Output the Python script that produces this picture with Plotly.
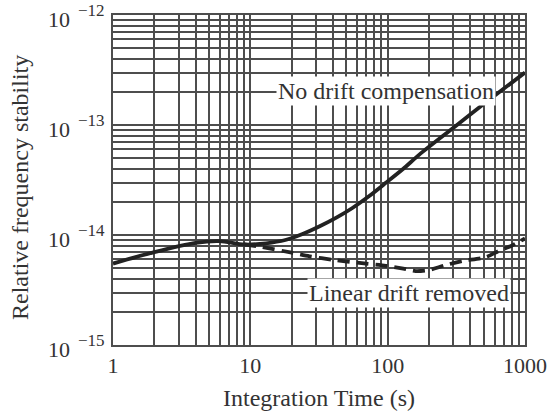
import plotly.graph_objects as go

# Data
solid_x = [1, 2, 4, 6, 9, 13, 18, 24, 32, 42, 55, 73, 97, 130, 170, 300, 500, 1000]
solid_y = [5.5e-15, 7.0e-15, 8.5e-15, 8.8e-15, 8.2e-15, 8.4e-15, 9.0e-15, 10.2e-15,
           12.0e-15, 14.3e-15, 17.5e-15, 22.5e-15, 29.8e-15, 40e-15, 53.8e-15,
           94e-15, 155e-15, 300e-15]
dash_x = [9, 12, 20, 27, 40, 60, 97, 130, 160, 200, 260, 350, 520, 650, 800, 1000]
dash_y = [8.2e-15, 7.8e-15, 6.9e-15, 6.4e-15, 5.95e-15, 5.6e-15, 5.25e-15, 4.95e-15,
          4.7e-15, 4.8e-15, 5.3e-15, 5.8e-15, 6.3e-15, 7.2e-15, 8.0e-15, 9.3e-15]

x_labels = ["1", "10", "100", "1000"]
x_decades = [1, 10, 100, 1000]
y_exponents = [-15, -14, -13, -12]
y_base = "10"
y_exp_labels = ["\u221215", "\u221214", "\u221213", "\u221212"]

x_grid = [m * 10 ** e for e in range(0, 3) for m in range(1, 10)] + [1000]
y_grid = [m * 10.0 ** e for e in range(-15, -12) for m in range(1, 10)] + [1e-12]

FONT = "Liberation Serif, Times New Roman, serif"
TXT = "#333333"
GRID = "#4d4d4d"
LINE = "#222222"

fig = go.Figure()
fig.add_trace(go.Scatter(x=dash_x, y=dash_y, mode="lines",
                         line=dict(color=LINE, width=3.8, dash="12px,7px", shape="spline", smoothing=0.7),
                         showlegend=False))
fig.add_trace(go.Scatter(x=solid_x, y=solid_y, mode="lines",
                         line=dict(color=LINE, width=3.8, shape="spline", smoothing=0.7),
                         showlegend=False))

xticktext = [x_labels[x_decades.index(v)] if v in x_decades else "" for v in x_grid]

fig.update_xaxes(type="log", range=[0, 3], tickvals=x_grid, ticktext=xticktext, automargin=False,
                 showgrid=True, gridcolor=GRID, gridwidth=1.5, ticks="",
                 showline=True, linecolor=GRID, linewidth=1.5, mirror=True, zeroline=False,
                 tickfont=dict(family=FONT, size=22, color=TXT),
                 title=dict(text="Integration Time (s)", font=dict(family=FONT, size=24, color=TXT), standoff=14))
fig.update_yaxes(type="log", range=[-15, -12], tickvals=y_grid, ticktext=[""] * len(y_grid), automargin=False,
                 showgrid=True, gridcolor=GRID, gridwidth=1.5, ticks="",
                 showline=True, linecolor=GRID, linewidth=1.5, mirror=True, zeroline=False)

annotations = []
for e, lab in zip(y_exponents, y_exp_labels):
    annotations.append(dict(x=0, xref="paper", y=e, yref="y", text=y_base, showarrow=False,
                            xanchor="right", yanchor="middle", xshift=-41, yshift=-4,
                            font=dict(family=FONT, size=22, color=TXT)))
    annotations.append(dict(x=0, xref="paper", y=e, yref="y", text=lab, showarrow=False,
                            xanchor="left", yanchor="middle", xshift=-37, yshift=5,
                            font=dict(family=FONT, size=17, color=TXT)))
annotations.append(dict(x=0, xref="paper", y=0.5, yref="paper", text="Relative frequency stability",
                        showarrow=False, textangle=-90, xanchor="center", yanchor="middle",
                        xshift=-93, yshift=-8, font=dict(family=FONT, size=24, color=TXT)))
annotations.append(dict(x=1.985, xref="x", y=-12.69, yref="y", text="No drift compensation",
                        showarrow=False, bgcolor="white", borderpad=1,
                        font=dict(family=FONT, size=24, color=TXT)))
annotations.append(dict(x=2.156, xref="x", y=-14.53, yref="y", text="Linear drift removed",
                        showarrow=False, bgcolor="white", borderpad=1,
                        font=dict(family=FONT, size=24, color=TXT)))

fig.update_layout(width=547, height=411, margin=dict(l=113, r=22, t=15, b=66),
                  paper_bgcolor="white", plot_bgcolor="white", annotations=annotations,
                  font=dict(family=FONT, color=TXT))
fig.write_html("out.html")
